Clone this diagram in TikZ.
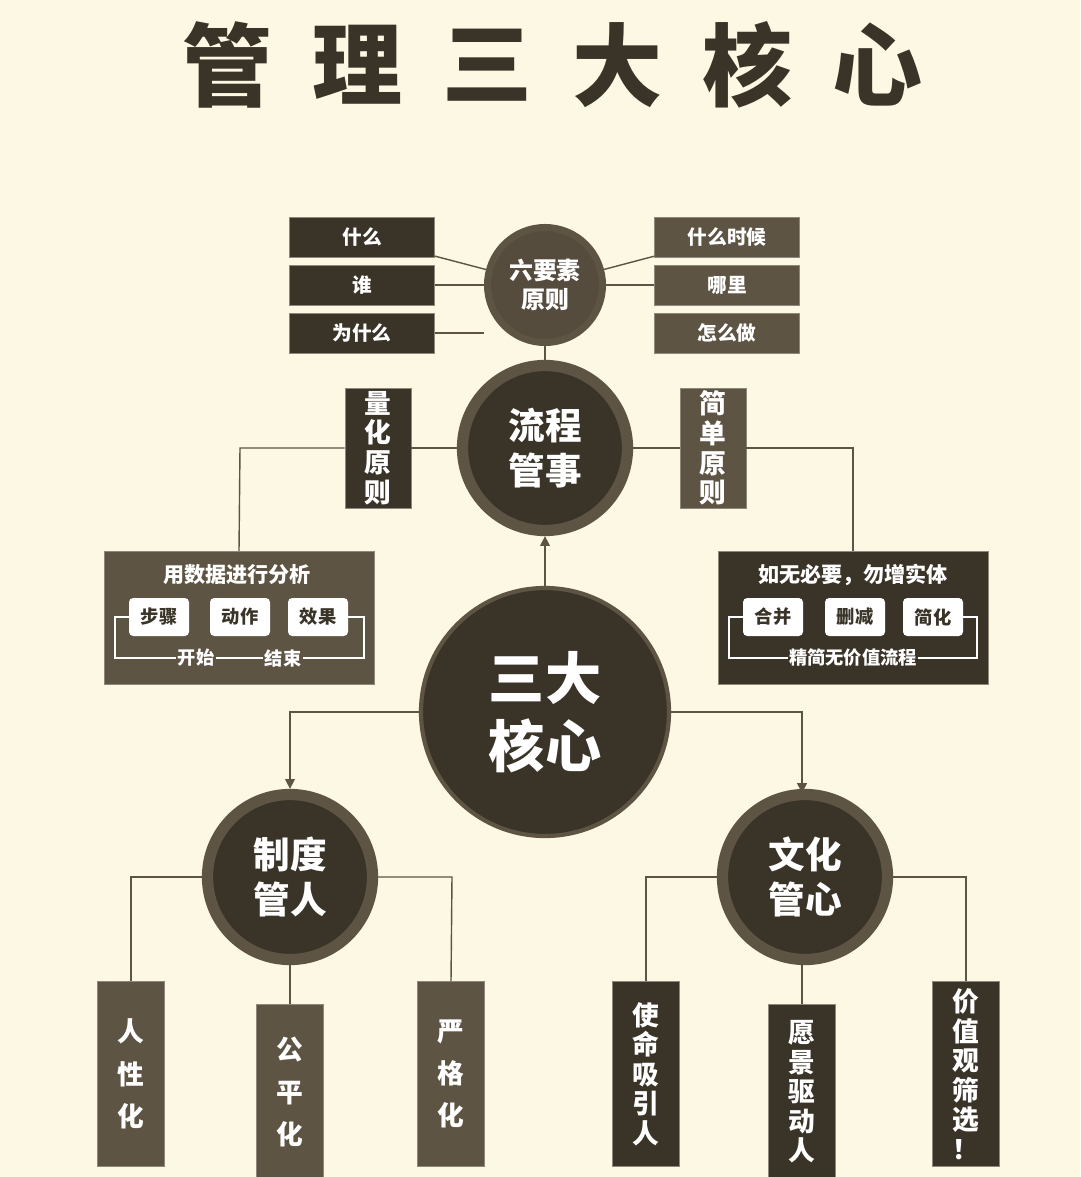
\documentclass[tikz,border=0pt]{standalone}
\usepackage{fontspec}
\setmainfont{Noto Sans CJK SC}
\usetikzlibrary{positioning,arrows.meta}
\definecolor{bg}{HTML}{FCF8E3}
\definecolor{dk}{HTML}{3A3328}
\definecolor{md}{HTML}{5E5444}
\tikzset{
  dkbox/.style={draw=md!70,fill=dk,text=white,font=\bfseries\fontsize{14}{16}\selectfont,inner sep=0pt},
  mdbox/.style={draw=md!70,fill=md,text=white,font=\bfseries\fontsize{14}{16}\selectfont,inner sep=0pt},
  wbox/.style={fill=white,rounded corners=3pt,text=dk,font=\bfseries\fontsize{13}{15}\selectfont,minimum width=60*0.025cm,minimum height=38*0.025cm},
  vtext/.style={align=center,font=\bfseries\fontsize{19}{30}\selectfont},
  ring/.style={circle,fill=dk,draw=md,text=white,align=center,font=\bfseries},
  link/.style={draw=md,line width=1pt},
}
\begin{document}
\begin{tikzpicture}[x=0.025cm,y=-0.025cm]
\fill[bg] (0,0) rectangle (1080,1177);
\useasboundingbox (0,0) rectangle (1080,1177);

% title
\foreach \c [count=\i from 0] in {管,理,三,大,核,心}
  \node[text=dk,font=\bfseries\fontsize{64}{64}\selectfont] (t\i) at (227+\i*130,65) {\c};

% six elements
\node[ring,line width=5pt,minimum size=115*0.025cm,font=\bfseries\fontsize{17}{21}\selectfont,fill=md!90!black] (six) at (545,285) {六要素\\原则};
\node[dkbox,minimum width=145*0.025cm,minimum height=40*0.025cm] (what) at (362,237) {什么};
\node[dkbox,minimum width=145*0.025cm,minimum height=40*0.025cm] (who) at (362,285) {谁};
\node[dkbox,minimum width=145*0.025cm,minimum height=40*0.025cm] (why) at (362,333) {为什么};
\node[mdbox,minimum width=145*0.025cm,minimum height=40*0.025cm] (when) at (727,237) {什么时候};
\node[mdbox,minimum width=145*0.025cm,minimum height=40*0.025cm] (where) at (727,285) {哪里};
\node[mdbox,minimum width=145*0.025cm,minimum height=40*0.025cm] (how) at (727,333) {怎么做};

% process
\node[ring,line width=8pt,minimum size=165*0.025cm,font=\bfseries\fontsize{26}{32}\selectfont] (proc) at (545,448) {流程\\管事};
\node[dkbox,minimum width=66*0.025cm,minimum height=120*0.025cm,vtext,font=\bfseries\fontsize{19}{21}\selectfont] (quant) at (378,448) {量\\化\\原\\则};
\node[mdbox,minimum width=66*0.025cm,minimum height=120*0.025cm,vtext,font=\bfseries\fontsize{19}{21}\selectfont] (simp) at (713,448) {简\\单\\原\\则};

% analysis panels
\node[mdbox,minimum width=270*0.025cm,minimum height=133*0.025cm] (data) at (239,618) {};
\node[text=white,font=\bfseries\fontsize{15}{17}\selectfont] (datat) at (237,575) {用数据进行分析};
\node[wbox] (s1) at (159,617) {步骤};
\node[wbox] (s2) at (240,617) {动作};
\node[wbox] (s3) at (318,617) {效果};
\draw[white,line width=1pt] (s1.west) -- (115,617) -- (115,658) -- (364,658) -- (364,617) -- (s3.east);
\node[fill=md,text=white,inner sep=1pt,font=\bfseries\fontsize{13}{15}\selectfont] (beg) at (196,658) {开始};
\node[fill=md,text=white,inner sep=1pt,font=\bfseries\fontsize{13}{15}\selectfont] (fin) at (283,658) {结束};

\node[dkbox,minimum width=270*0.025cm,minimum height=133*0.025cm] (occ) at (853,618) {};
\node[text=white,font=\bfseries\fontsize{15}{17}\selectfont] (occt) at (853,575) {如无必要，勿增实体};
\node[wbox] (r1) at (773,617) {合并};
\node[wbox] (r2) at (855,617) {删减};
\node[wbox] (r3) at (933,617) {简化};
\draw[white,line width=1pt] (r1.west) -- (729,617) -- (729,658) -- (977,658) -- (977,617) -- (r3.east);
\node[fill=dk,text=white,inner sep=1pt,font=\bfseries\fontsize{13}{15}\selectfont] (lean) at (853,658) {精简无价值流程};

% core
\node[ring,line width=3pt,minimum size=248*0.025cm,font=\bfseries\fontsize{40}{48}\selectfont] (core) at (545,712) {三大\\核心};
\node[ring,line width=8pt,minimum size=165*0.025cm,font=\bfseries\fontsize{26}{32}\selectfont] (sys) at (290,877) {制度\\管人};
\node[ring,line width=8pt,minimum size=165*0.025cm,font=\bfseries\fontsize{26}{32}\selectfont] (cul) at (805,877) {文化\\管心};

% leaves
\node[mdbox,minimum width=67*0.025cm,minimum height=185*0.025cm,vtext] (hum) at (131,1074) {人\\性\\化};
\node[mdbox,minimum width=67*0.025cm,minimum height=175*0.025cm,vtext] (fair) at (290,1092) {公\\平\\化};
\node[mdbox,minimum width=67*0.025cm,minimum height=185*0.025cm,vtext] (strict) at (451,1074) {严\\格\\化};
\node[dkbox,minimum width=67*0.025cm,minimum height=185*0.025cm,vtext,font=\bfseries\fontsize{19}{21}\selectfont] (miss) at (646,1074) {使\\命\\吸\\引\\人};
\node[dkbox,minimum width=67*0.025cm,minimum height=175*0.025cm,vtext,font=\bfseries\fontsize{19}{21}\selectfont] (vis) at (802,1092) {愿\\景\\驱\\动\\人};
\node[dkbox,minimum width=67*0.025cm,minimum height=185*0.025cm,vtext,font=\bfseries\fontsize{19}{21}\selectfont] (val) at (966,1074) {价\\值\\观\\筛\\选\\！};

% edges
\begin{scope}[on background layer/.style={}]
\end{scope}
\draw[link] (what) -- (six);
\draw[link] (who) -- (six);
\draw[link] (why.east) -- (six.west |- why.east) ;
\draw[link] (when) -- (six);
\draw[link] (where) -- (six);
\draw[link] (six) -- (proc);
\draw[link] (data.north) -- (240,448) -- (quant);
\draw[link] (quant) -- (proc);
\draw[link] (proc) -- (simp);
\draw[link] (simp) -- (853,448) -- (occ.north);
\draw[link,-{Triangle[length=7pt,width=7pt]}] (core) -- (proc);
\draw[link,-{Triangle[length=7pt,width=7pt]}] (core.west) -- (290,712) -- (sys.north);
\draw[link,-{Triangle[length=7pt,width=7pt]}] (core.east) -- (802,712) -- (802,793);
\draw[link] (hum.north) -- (131,877) -- (sys);
\draw[link] (sys) -- (452,877) -- (strict.north);
\draw[link] (sys) -- (fair);
\draw[link] (miss.north) -- (646,877) -- (cul);
\draw[link] (cul) -- (966,877) -- (val.north);
\draw[link] (cul.south -| vis) -- (vis);
\end{tikzpicture}
\end{document}
